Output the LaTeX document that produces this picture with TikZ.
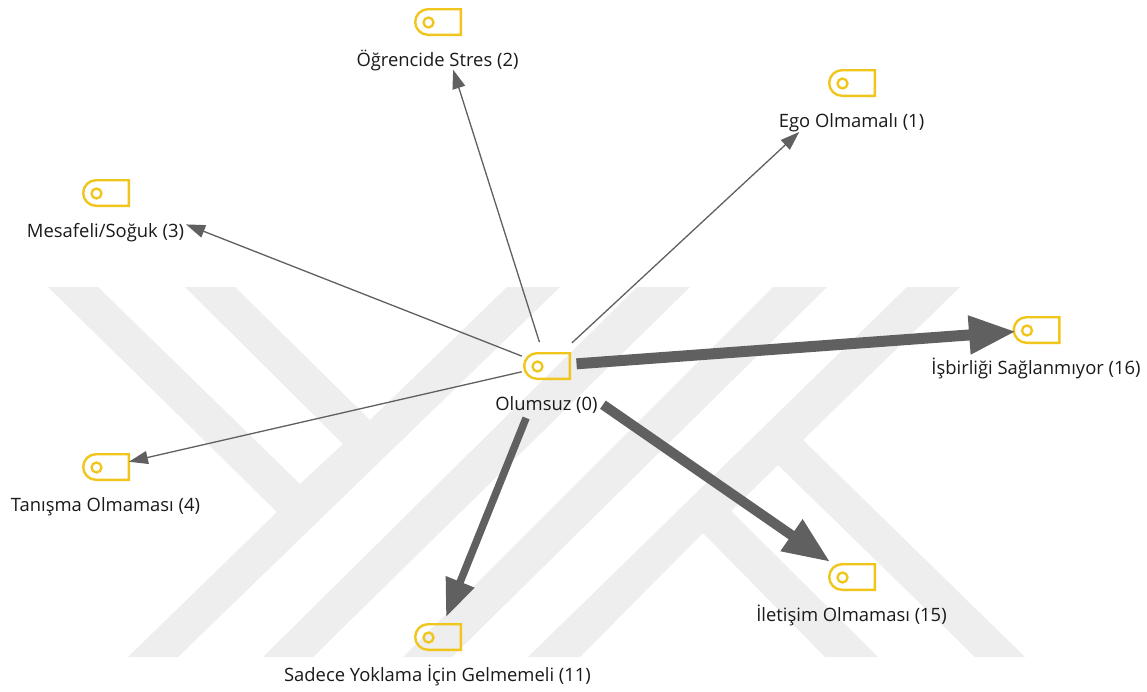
\documentclass[tikz,border=0pt]{standalone}
\usepackage{fontspec}
\setmainfont{Open Sans}
\usetikzlibrary{arrows.meta,shapes.misc}
\definecolor{iconyellow}{HTML}{F1C61C}
\definecolor{linkgray}{HTML}{606060}
\definecolor{markgray}{HTML}{EEEEEE}
\definecolor{labelink}{HTML}{1A1A1A}
\tikzset{
  iconbox/.style={shape=rounded rectangle,rounded rectangle east arc=none,draw=iconyellow,line width=2.4pt,minimum width=45.6pt,minimum height=25.6pt,inner sep=0pt,outer sep=0pt},
  icondot/.style={shape=circle,draw=iconyellow,line width=2.3pt,minimum size=10pt,inner sep=0pt},
  conceptlabel/.style={anchor=base,inner sep=0pt,text=labelink,font=\fontsize{18.4pt}{22pt}\selectfont},
  markshape/.style={fill=markgray,draw=none},
  thinlink/.style={draw=linkgray,line width=1.3pt,-{Triangle[length=19pt,width=13pt]}},
}
\newcommand{\Concept}[4]{%
  \node[iconbox] (#1) at (#2,#3) {};
  \node[icondot] (#1dot) at (#2-9.5,#3+0.5) {};
  \node[conceptlabel] (#1label) at (#2-0.5,#3+44.5) {#4};
}
\begin{document}
\begin{tikzpicture}[x=1pt,y=-1pt]
\useasboundingbox (0,0) rectangle (1147,691);
\fill[white] (0,0) rectangle (1147,691);
% watermark
\fill[markshape] (48,287)--(98,287)--(300,484)--(343,444)--(185,287)--(235,287)--(370,420)--(507,287)--(560,287)--(178,657)--(128,657)--(277,512)--cycle;
\fill[markshape] (263,657)--(313,657)--(690,287)--(637,287)--cycle;
\fill[markshape] (403,657)--(452,657)--(827,287)--(773,287)--cycle;
\fill[markshape] (528,657)--(907,287)--(960,287)--(803,440)--(1025,657)--(975,657)--(778,465)--(731,511)--(878,657)--(825,657)--(703,533)--(580,657)--cycle;
% concepts
\Concept{o}{547}{366}{Olumsuz (0)}
\Concept{ogr}{438}{22}{Öğrencide Stres (2)}
\Concept{ego}{852}{83}{Ego Olmamalı (1)}
\Concept{mes}{106}{193}{Mesafeli/Soğuk (3)}
\Concept{tan}{106}{467}{Tanışma Olmaması (4)}
\Concept{isb}{1036.5}{330}{İşbirliği Sağlanmıyor (16)}
\Concept{ilt}{852}{577}{İletişim Olmaması (15)}
\Concept{sad}{438}{637}{Sadece Yoklama İçin Gelmemeli (11)}
% links
\draw[thinlink,shorten <=25pt,shorten >=50pt] (o.center) -- (ogr.center);
\draw[thinlink,shorten <=34pt,shorten >=72pt] (o.center) -- (ego.center);
\draw[thinlink,shorten <=27pt,shorten >=86pt] (o.center) -- (mes.center);
\draw[thinlink,shorten <=26pt,shorten >=23.5pt] (o.center) -- (tan.center);
\draw[draw=linkgray,line width=11pt,-{Triangle[length=47pt,width=36pt]},shorten <=29.6pt,shorten >=20.5pt] (o.center) -- (isb.center);
\draw[draw=linkgray,line width=10pt,-{Triangle[length=47pt,width=36pt]},shorten <=68pt,shorten >=26.6pt] (o.center) -- (ilt.center);
\draw[draw=linkgray,line width=7.5pt,-{Triangle[length=38pt,width=29pt]},shorten <=56pt,shorten >=21.5pt] (o.center) -- (sad.center);
\end{tikzpicture}
\end{document}
